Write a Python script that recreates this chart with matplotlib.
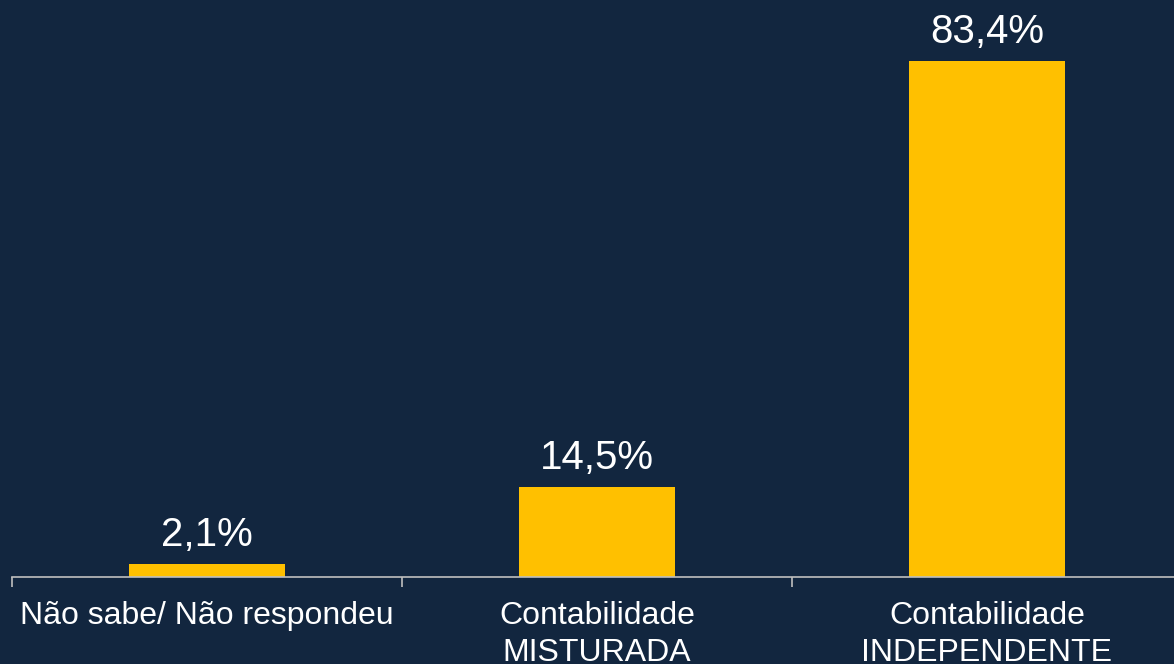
import matplotlib
matplotlib.use('Agg')
import matplotlib.pyplot as plt

categories = ['Não sabe/ Não respondeu', 'Contabilidade\nMISTURADA', 'Contabilidade\nINDEPENDENTE']
values = [2.1, 14.5, 83.4]
labels = ['2,1%', '14,5%', '83,4%']

bg = '#12263F'
bar_color = '#FFC000'

plt.rcParams['font.family'] = ['Liberation Sans', 'DejaVu Sans']

fig = plt.figure(figsize=(11.74, 6.64), dpi=100, facecolor=bg)
ax = fig.add_axes([12 / 1174, 87 / 664, 1170 / 1174, 577 / 664])
ax.set_facecolor(bg)

x = range(len(categories))
ax.bar(x, values, width=0.4, color=bar_color)

for xi, v, lab in zip(x, values, labels):
    ax.annotate(lab, (xi, v), xytext=(0, 7.5), textcoords='offset points',
                ha='center', va='bottom', color='white', fontsize=29)

ax.set_xlim(-0.5, 2.5)
ax.set_ylim(0, 93.26)
ax.set_xticks([-0.5, 0.5, 1.5])
ax.set_xticklabels([])
ax.set_xticks(list(x), minor=True)
ax.set_xticklabels(categories, minor=True, color='white', fontsize=23, linespacing=1.32)
ax.tick_params(axis='x', which='major', length=7, width=1.2, color='#BFBFBF', direction='out')
ax.tick_params(axis='x', which='minor', length=0, pad=17)
ax.set_yticks([])

for side in ['top', 'right', 'left']:
    ax.spines[side].set_visible(False)
ax.spines['bottom'].set_color('#BFBFBF')
ax.spines['bottom'].set_linewidth(1.2)

fig.savefig('out.png', dpi=100, facecolor=bg)
